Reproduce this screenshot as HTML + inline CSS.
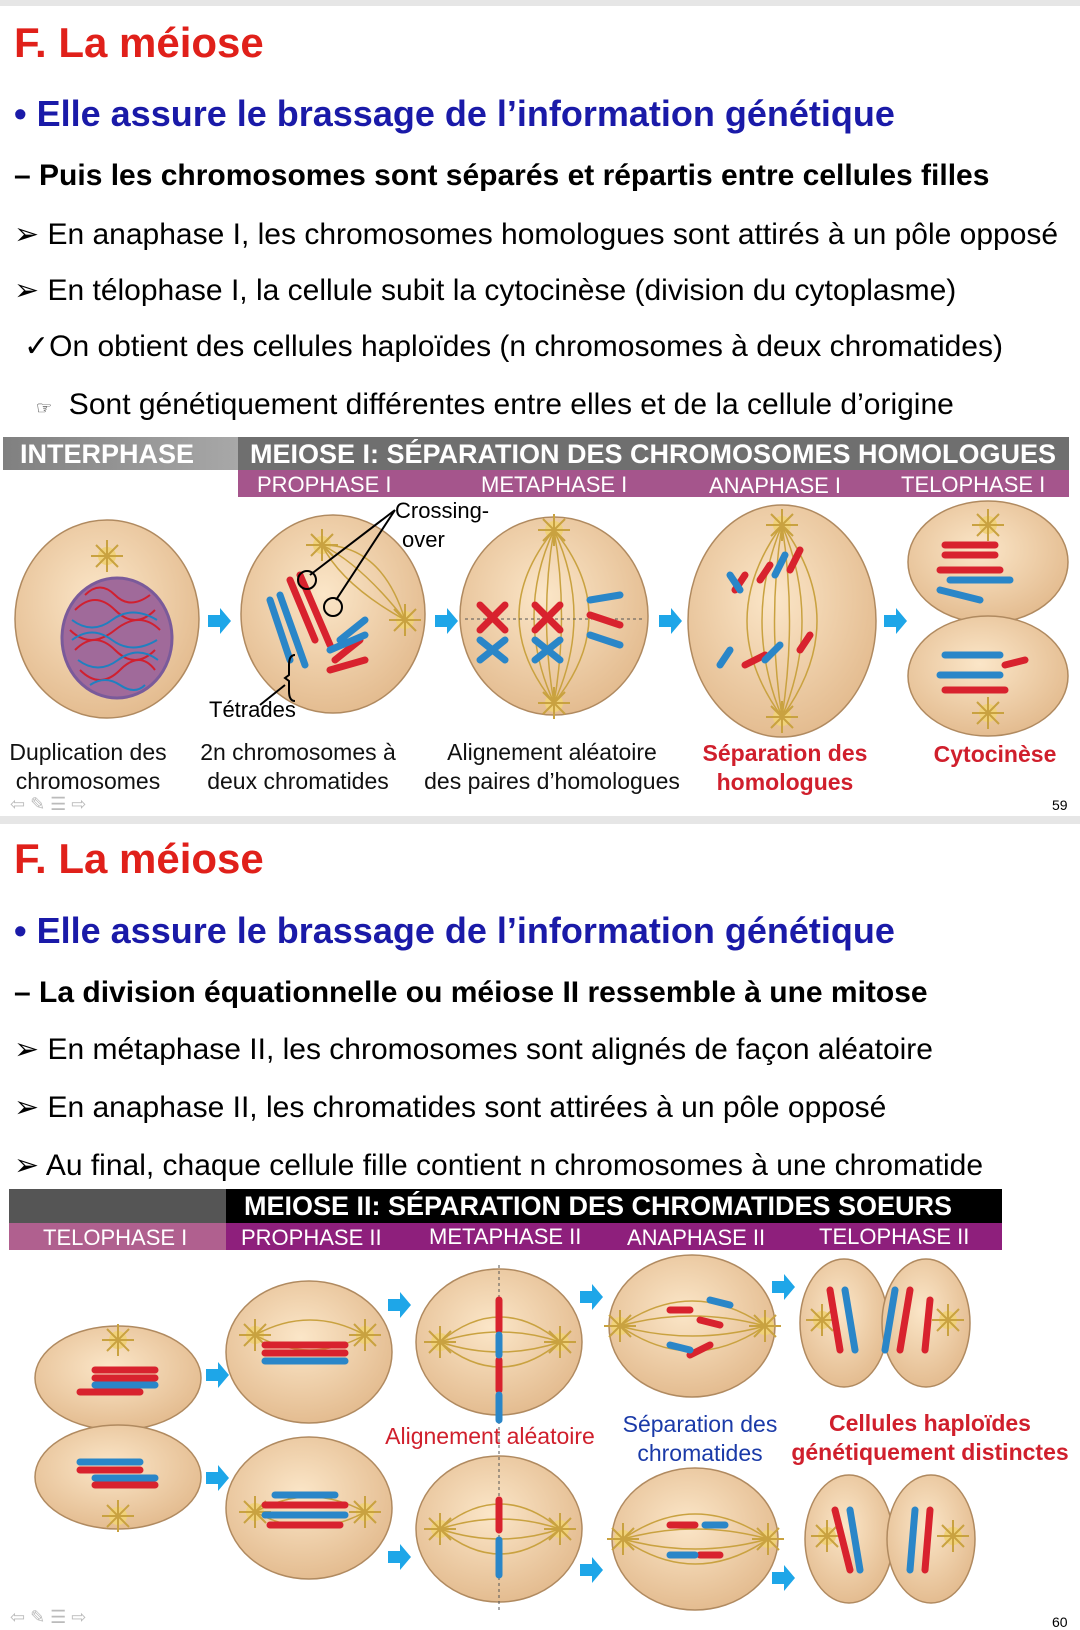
<!DOCTYPE html>
<html><head><meta charset="utf-8"><style>
body{margin:0;width:1080px;height:1630px;background:#fff;position:relative;overflow:hidden;font-family:"Liberation Sans",Arial,sans-serif}
.t{position:absolute;white-space:nowrap;line-height:1}
.ti{color:#e0201a;font-weight:bold;font-size:42px;left:14px}
.bl{color:#1a1aa8;font-weight:bold;font-size:36px;left:14px}
.ds{color:#000;font-weight:bold;font-size:30px;left:14px}
.ln{color:#000;font-size:30px;left:14px}
.cap{font-size:23px;text-align:center;line-height:29px;color:#111}
.hd{position:absolute;color:#fff;font-weight:bold;font-size:27px;line-height:33px;white-space:nowrap}
.sub{position:absolute;color:#fff;font-size:22px;line-height:27px;white-space:nowrap}
</style></head><body>
<div style="position:absolute;left:0;top:0;width:1080px;height:6px;background:#e6e6e6"></div>
<div class="t ti" style="top:22px">F. La méiose</div>
<div class="t bl" style="top:96px">• Elle assure le brassage de l’information génétique</div>
<div class="t ds" style="top:161px">– Puis les chromosomes sont séparés et répartis entre cellules filles</div>
<div class="t ln" style="top:220px">➢ En anaphase I, les chromosomes homologues sont attirés à un pôle opposé</div>
<div class="t ln" style="top:276px">➢ En télophase I, la cellule subit la cytocinèse (division du cytoplasme)</div>
<div class="t ln" style="top:332px;left:24px">✓On obtient des cellules haploïdes (n chromosomes à deux chromatides)</div>
<div class="t ln" style="top:390px;left:36px"><span style="font-size:18px">☞</span>&nbsp; Sont génétiquement différentes entre elles et de la cellule d’origine</div>

<div style="position:absolute;left:3px;top:437px;width:235px;height:33px;background:linear-gradient(90deg,#808080,#a8a8a8)"></div>
<div class="hd" style="left:20px;top:438px">INTERPHASE</div>
<div style="position:absolute;left:238px;top:437px;width:831px;height:33px;background:#6f6f6f"></div>
<div class="hd" style="left:250px;top:438px">MEIOSE I: SÉPARATION DES CHROMOSOMES HOMOLOGUES</div>
<div style="position:absolute;left:238px;top:470px;width:831px;height:27px;background:#a5558c"></div>
<div class="sub" style="left:257px;top:471px">PROPHASE I</div>
<div class="sub" style="left:481px;top:471px">METAPHASE I</div>
<div class="sub" style="left:709px;top:472px">ANAPHASE I</div>
<div class="sub" style="left:901px;top:471px">TELOPHASE I</div>

<div style="position:absolute;left:0;top:816px;width:1080px;height:8px;background:#e6e6e6"></div>
<div class="t" style="left:1052px;top:798px;font-size:14px">59</div>
<div class="t" style="left:1052px;top:1615px;font-size:14px">60</div>

<div class="t ti" style="top:838px">F. La méiose</div>
<div class="t bl" style="top:913px">• Elle assure le brassage de l’information génétique</div>
<div class="t ds" style="top:978px">– La division équationnelle ou méiose II ressemble à une mitose</div>
<div class="t ln" style="top:1035px">➢ En métaphase II, les chromosomes sont alignés de façon aléatoire</div>
<div class="t ln" style="top:1093px">➢ En anaphase II, les chromatides sont attirées à un pôle opposé</div>
<div class="t ln" style="top:1151px">➢ Au final, chaque cellule fille contient n chromosomes à une chromatide</div>

<div style="position:absolute;left:9px;top:1189px;width:217px;height:34px;background:#555"></div>
<div style="position:absolute;left:226px;top:1189px;width:776px;height:34px;background:#000"></div>
<div class="hd" style="left:244px;top:1190px">MEIOSE II: SÉPARATION DES CHROMATIDES SOEURS</div>
<div style="position:absolute;left:9px;top:1223px;width:217px;height:27px;background:#b0608f"></div>
<div style="position:absolute;left:226px;top:1223px;width:776px;height:27px;background:#8e1f7c"></div>
<div class="sub" style="left:43px;top:1224px">TELOPHASE I</div>
<div class="sub" style="left:241px;top:1224px">PROPHASE II</div>
<div class="sub" style="left:429px;top:1223px">METAPHASE II</div>
<div class="sub" style="left:627px;top:1224px">ANAPHASE II</div>
<div class="sub" style="left:819px;top:1223px">TELOPHASE II</div>

<svg width="1080" height="1630" style="position:absolute;left:0;top:0" xmlns="http://www.w3.org/2000/svg">
<defs>
<radialGradient id="g" cx="45%" cy="40%" r="65%"><stop offset="0" stop-color="#fbe6c8"/><stop offset="1" stop-color="#e2b98c"/></radialGradient>
<g id="ar"><polygon points="-10,-6 2,-6 2,-13 13,0 2,13 2,6 -10,6" fill="#1ea6e8"/></g>
<g id="ctr"><circle r="9" fill="#f0d27a"/><g stroke="#c9a240" stroke-width="2"><line x1="-16" y1="0" x2="16" y2="0"/><line x1="0" y1="-16" x2="0" y2="16"/><line x1="-11" y1="-11" x2="11" y2="11"/><line x1="-11" y1="11" x2="11" y2="-11"/></g></g>
</defs>
<g stroke="#b08a60" stroke-width="1.5" fill="url(#g)">
<ellipse cx="107" cy="619" rx="92" ry="99"/>
<ellipse cx="333" cy="614" rx="92" ry="99"/>
<ellipse cx="554" cy="616" rx="94" ry="99"/>
<ellipse cx="782" cy="621" rx="94" ry="116"/>
<ellipse cx="988" cy="562" rx="80" ry="61"/>
<ellipse cx="988" cy="676" rx="80" ry="60"/>
<ellipse cx="118" cy="1378" rx="83" ry="52"/>
<ellipse cx="118" cy="1477" rx="83" ry="52"/>
<ellipse cx="309" cy="1352" rx="83" ry="71"/>
<ellipse cx="309" cy="1508" rx="83" ry="71"/>
<ellipse cx="499" cy="1342" rx="83" ry="73"/>
<ellipse cx="499" cy="1529" rx="83" ry="73"/>
<ellipse cx="692" cy="1326" rx="83" ry="71"/>
<ellipse cx="695" cy="1539" rx="83" ry="71"/>
<ellipse cx="844" cy="1323" rx="44" ry="64"/><ellipse cx="926" cy="1323" rx="44" ry="64"/>
<ellipse cx="849" cy="1539" rx="44" ry="64"/><ellipse cx="931" cy="1539" rx="44" ry="64"/>
</g>
<ellipse cx="117" cy="638" rx="55" ry="60" fill="#a06a9a" stroke="#7a5a9a" stroke-width="3"/>
<g fill="none" stroke-width="2">
<path d="M75 610 q20 -20 40 0 t40 0 M70 630 q20 20 45 0 t45 0 M75 650 q20 -20 40 0 t40 0 M80 670 q20 20 40 0 t35 0 M85 595 q15 -15 30 0 t35 0" stroke="#d02030"/>
<path d="M72 620 q20 15 40 0 t45 0 M72 640 q20 -15 40 0 t45 0 M78 660 q20 15 40 0 t40 0 M90 685 q15 -10 30 0 t25 0" stroke="#2080c0"/>
</g>
<g fill="#1ea6e8">
<use href="#ar" x="218" y="621"/><use href="#ar" x="445" y="621"/><use href="#ar" x="669" y="621"/><use href="#ar" x="894" y="621"/>
<use href="#ar" x="216" y="1375"/><use href="#ar" x="216" y="1478"/><use href="#ar" x="398" y="1305"/><use href="#ar" x="398" y="1557"/>
<use href="#ar" x="590" y="1297"/><use href="#ar" x="590" y="1570"/><use href="#ar" x="782" y="1287"/><use href="#ar" x="782" y="1578"/>
</g>
<g>
<use href="#ctr" x="107" y="556"/><use href="#ctr" x="322" y="545"/><use href="#ctr" x="405" y="620"/>
<use href="#ctr" x="554" y="530"/><use href="#ctr" x="554" y="703"/><use href="#ctr" x="782" y="525"/><use href="#ctr" x="782" y="717"/>
<use href="#ctr" x="988" y="525"/><use href="#ctr" x="988" y="713"/><use href="#ctr" x="118" y="1340"/><use href="#ctr" x="118" y="1516"/>
<use href="#ctr" x="255" y="1335"/><use href="#ctr" x="365" y="1335"/><use href="#ctr" x="255" y="1512"/><use href="#ctr" x="365" y="1512"/>
<use href="#ctr" x="440" y="1342"/><use href="#ctr" x="560" y="1342"/><use href="#ctr" x="440" y="1529"/><use href="#ctr" x="560" y="1529"/>
<use href="#ctr" x="620" y="1326"/><use href="#ctr" x="765" y="1326"/><use href="#ctr" x="623" y="1539"/><use href="#ctr" x="768" y="1539"/>
<use href="#ctr" x="822" y="1320"/><use href="#ctr" x="948" y="1320"/><use href="#ctr" x="827" y="1536"/><use href="#ctr" x="953" y="1536"/>
</g>
<g fill="none" stroke="#c9a240" stroke-width="1.5">
<path d="M554 530 q-70 86 0 173 M554 530 q-40 86 0 173 M554 530 q-15 86 0 173 M554 530 q15 86 0 173 M554 530 q40 86 0 173 M554 530 q70 86 0 173"/>
<path d="M782 525 q-70 96 0 192 M782 525 q-40 96 0 192 M782 525 q-15 96 0 192 M782 525 q15 96 0 192 M782 525 q40 96 0 192 M782 525 q70 96 0 192"/>
<path d="M322 545 q40 20 83 75 M322 545 q60 0 83 75 M322 545 q20 40 83 75"/>
<path d="M440 1342 q60 -50 120 0 M440 1342 q60 -20 120 0 M440 1342 q60 20 120 0 M440 1342 q60 50 120 0"/>
<path d="M440 1529 q60 -50 120 0 M440 1529 q60 -20 120 0 M440 1529 q60 20 120 0 M440 1529 q60 50 120 0"/>
<path d="M620 1326 q72 -50 145 0 M620 1326 q72 -20 145 0 M620 1326 q72 20 145 0 M620 1326 q72 50 145 0"/>
<path d="M623 1539 q72 -50 145 0 M623 1539 q72 -20 145 0 M623 1539 q72 20 145 0 M623 1539 q72 50 145 0"/>
<path d="M255 1335 q55 -30 110 0 M255 1335 q55 30 110 0 M255 1512 q55 -30 110 0 M255 1512 q55 30 110 0"/>
</g>
<line x1="465" y1="619" x2="645" y2="619" stroke="#555" stroke-dasharray="3,3"/>
<line x1="499" y1="1265" x2="499" y2="1610" stroke="#555" stroke-dasharray="3,3"/>
<g stroke-linecap="round" stroke-width="7" fill="none">
<g stroke="#d8222e">
<path d="M290 580 l25 60 M300 575 l30 70 M335 660 l25 -20 M330 670 l35 -10"/>
<path d="M480 605 l25 25 M480 630 l25 -25 M535 605 l25 25 M535 630 l25 -25 M590 615 l30 10"/>
<path d="M735 590 l10 -15 M760 580 l10 -15 M745 665 l20 -10 M800 650 l10 -15 M790 570 l10 -20"/>
<path d="M945 545 l50 0 M945 555 l50 0 M940 570 l60 0 M945 690 l60 0 M1005 665 l20 -5"/>
<path d="M95 1370 l60 0 M95 1378 l60 0 M80 1392 l60 0 M80 1470 l60 0 M95 1485 l60 0"/>
<path d="M265 1345 l80 0 M265 1353 l80 0 M265 1505 l80 0 M270 1525 l70 0"/>
<path d="M499 1300 l0 30 M499 1360 l0 30 M499 1500 l0 30"/>
<path d="M670 1310 l20 0 M700 1320 l20 5 M690 1355 l20 -10 M670 1525 l25 0 M700 1555 l20 0"/>
<path d="M830 1290 l10 60 M910 1290 l-10 60 M930 1300 l-5 50 M835 1510 l15 60 M930 1510 l-5 60"/>
</g>
<g stroke="#2a86c8">
<path d="M270 600 l20 60 M280 595 l25 70 M340 640 l25 -20 M330 650 l35 -15"/>
<path d="M480 640 l25 20 M480 660 l25 -20 M535 640 l25 20 M535 660 l25 -20 M590 600 l30 -5 M590 635 l30 10"/>
<path d="M775 575 l10 -20 M720 665 l10 -15 M765 660 l15 -15 M740 590 l-10 -15"/>
<path d="M950 580 l60 0 M940 590 l40 10 M945 655 l55 0 M940 675 l60 0"/>
<path d="M95 1385 l60 0 M80 1462 l60 0 M95 1478 l60 0"/>
<path d="M265 1361 l80 0 M265 1515 l80 0 M275 1495 l60 0"/>
<path d="M499 1335 l0 20 M499 1395 l0 25 M499 1540 l0 35"/>
<path d="M670 1345 l20 5 M710 1300 l20 5 M670 1555 l25 0 M705 1525 l20 0"/>
<path d="M845 1290 l10 60 M895 1290 l-10 60 M850 1510 l10 60 M915 1510 l-5 60"/>
</g>
</g>
<g fill="none" stroke="#000" stroke-width="2">
<circle cx="307" cy="580" r="9"/><circle cx="333" cy="607" r="9"/>
<path d="M395 510 L310 575 M395 510 L336 600"/>
<path d="M295 655 q-6 0 -6 10 v10 l-4 3 l4 3 v10 q0 10 6 10"/><path d="M285 685 l-25 20"/>
</g>
</svg>

<div class="t" style="left:395px;top:500px;font-size:22px">Crossing-</div>
<div class="t" style="left:402px;top:529px;font-size:22px">over</div>
<div class="t" style="left:209px;top:699px;font-size:22px">Tétrades</div>
<div class="t cap" style="left:0;top:738px;width:176px">Duplication des<br>chromosomes</div>
<div class="t cap" style="left:193px;top:738px;width:210px">2n chromosomes à<br>deux chromatides</div>
<div class="t cap" style="left:412px;top:738px;width:280px">Alignement aléatoire<br>des paires d’homologues</div>
<div class="t cap" style="left:690px;top:739px;width:190px;color:#d01f2c;font-weight:bold">Séparation des<br>homologues</div>
<div class="t cap" style="left:920px;top:740px;width:150px;color:#d01f2c;font-weight:bold">Cytocinèse</div>
<div class="t cap" style="left:370px;top:1422px;width:240px;color:#d01f2c">Alignement aléatoire</div>
<div class="t cap" style="left:600px;top:1410px;width:200px;color:#1a3aa8">Séparation des<br>chromatides</div>
<div class="t cap" style="left:780px;top:1409px;width:300px;color:#d01f2c;font-weight:bold">Cellules haploïdes<br>génétiquement distinctes</div>
<div class="t" style="left:10px;top:795px;font-size:18px;color:#bbb">⇦ ✎ ☰ ⇨</div>
<div class="t" style="left:10px;top:1608px;font-size:18px;color:#bbb">⇦ ✎ ☰ ⇨</div>
</body></html>
